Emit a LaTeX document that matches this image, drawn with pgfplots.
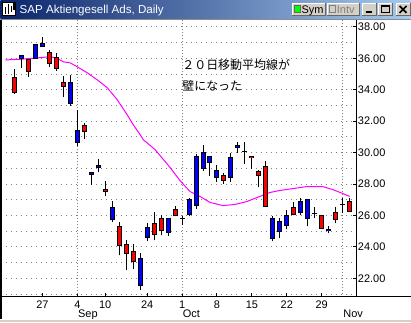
\documentclass[border=0pt]{standalone}
\usepackage{pgfplots}
\pgfplotsset{compat=1.18}
\usepackage{pgfplotstable}
\usepackage{fontspec}
\setmainfont{Liberation Sans}
\newfontfamily\cjk{Noto Sans CJK JP}
\definecolor{winGray}{RGB}{212,208,200}
\definecolor{tbDark}{RGB}{10,36,106}
\definecolor{tbLight}{RGB}{166,202,240}
\definecolor{mag}{RGB}{255,0,255}
\definecolor{cred}{RGB}{255,0,0}
\definecolor{cblue}{RGB}{0,0,255}
\definecolor{cgreen}{RGB}{0,255,0}

% red candles: index, body top, body bottom, high, low
\pgfplotstableread{
i bt bb h l
0 34.83 33.81 35.33 33.75
2 35.97 35.14 35.97 34.83
5 36.41 35.65 36.54 35.46
6 36.10 35.33 36.35 35.21
7 34.51 34.19 34.89 33.56
10 31.78 31.33 31.90 30.89
13 27.71 27.52 28.22 27.21
15 25.30 24.03 25.56 23.46
16 24.16 23.52 24.41 22.51
17 23.71 23.02 24.16 22.57
20 25.49 24.73 26.25 24.41
21 25.81 24.98 26.06 24.73
23 26.38 25.94 26.63 25.94
30 28.60 28.22 28.73 28.03
34 29.81 29.68 29.81 28.98
35 28.86 28.54 28.92 27.78
36 29.17 26.57 29.49 26.57
40 26.51 26.00 26.83 26.00
44 26.00 25.17 26.00 25.17
46 26.25 25.68 26.51 25.49
48 26.89 26.25 27.14 26.25
}\redtab

% blue candles
\pgfplotstableread{
i bt bb h l
1 36.22 35.97 36.22 35.40
3 36.92 35.97 36.92 35.97
4 36.98 36.73 37.37 36.73
8 34.51 33.11 34.95 32.98
9 31.46 30.63 32.73 30.44
11 28.79 28.60 28.79 27.97
12 29.24 29.05 29.62 28.79
14 26.51 25.68 26.89 25.56
18 23.27 21.49 23.59 21.24
19 25.24 24.54 25.49 24.35
22 25.81 24.86 25.81 24.67
25 27.02 26.00 27.08 25.94
26 29.81 26.63 29.94 26.44
27 30.06 28.98 30.51 28.86
28 29.81 29.37 29.81 28.54
29 28.92 28.41 29.24 28.16
31 29.75 28.41 30.00 28.16
32 30.51 30.32 30.70 30.00
37 25.81 24.48 25.94 24.35
38 25.62 24.92 25.87 24.54
39 26.00 25.30 26.32 25.11
41 26.95 26.13 27.08 26.06
42 27.02 25.75 27.02 25.30
45 25.11 24.98 25.30 24.86
}\bluetab

% doji candles: index, open=close, high, low
\pgfplotstableread{
i v h l
24 25.81 25.94 25.37
33 30.06 30.70 29.30
43 26.13 26.51 25.81
47 26.70 27.08 26.13
}\dojitab

\newcommand{\winbtn}[4]{%
  \fill[winGray] (#1,#2) rectangle (#3,#4);
  \draw[white, line width=0.75pt] (#1+0.5,#4-0.5) -- (#1+0.5,#2+0.5) -- (#3-0.5,#2+0.5);
  \draw[black!60, line width=0.75pt] (#1+0.5,#4-0.5) -- (#3-0.5,#4-0.5) -- (#3-0.5,#2+0.5);
}
\pgfplotsset{nomark/.style={only marks, mark=*, mark size=0pt, mark options={draw=none, fill=none}}}

\begin{document}
\begin{tikzpicture}
\begin{scope}[x=0.75pt,y=-0.75pt]
\fill[white] (0,0) rectangle (411,323);
\path[use as bounding box] (0,0) rectangle (411,323);
\end{scope}
\begin{axis}[
  at={(0.75pt,-15pt)}, anchor=north west,
  scale only axis, width=267pt, height=208.125pt,
  xmin=-1.857, xmax=49, ymin=20.825, ymax=38.444,
  axis line style={draw=none},
  xtick={4,9,13,19,24,29,34,39,44},
  xticklabels={27,4,10,24,1,8,15,22,29},
  ytick={22,24,...,38},
  minor ytick={21,23,...,37},
  ymajorgrids, yminorgrids,
  grid style={gray, line width=0.75pt, dash pattern=on 0.75pt off 3pt},
  ytick pos=right, yticklabel pos=right,
  xtick pos=bottom,
  tick align=inside,
  major tick length=3pt,
  minor tick length=0pt,
  tick style={black, line width=0.75pt},
  tick label style={font=\fontsize{8.25}{9}\selectfont, inner sep=0pt},
  /pgf/number format/assume math mode=true,
  yticklabel style={/pgf/number format/fixed, /pgf/number format/fixed zerofill, /pgf/number format/precision=2, anchor=west, xshift=0.75pt},
  xticklabel style={anchor=north, yshift=-2.8pt},
  extra x ticks={9,24,47},
  extra x tick labels={Sep,Oct,Nov},
  extra x tick style={grid=major, major grid style={gray, line width=0.75pt, dash pattern=on 0.75pt off 1.5pt}, major tick length=0pt, xticklabel style={anchor=north west, yshift=-6.7pt, xshift=0.4pt}},
]
% 20-day moving average
\addplot[mag, line width=0.75pt] coordinates {
(-1.29,35.90) (0.86,35.94) (3.29,36.03) (5,36.10) (6,36.03) (7,35.78) (8,35.71)
(9,35.46) (10.43,35.08) (11.86,34.63) (13.29,34.13) (14.71,33.37) (16.14,32.41)
(17,31.78) (18,31.14) (18.43,30.83) (20.14,30.19) (22.29,29.05) (23.71,28.22)
(25.14,27.52) (26.57,27.21) (28,26.83) (29.86,26.63) (31.57,26.70) (33.29,26.89)
(35.14,27.21) (36.57,27.46) (38,27.59) (39.86,27.71) (41.86,27.84) (44.14,27.84)
(45.57,27.65) (47,27.40) (48,27.21)
};
% wicks
\addplot[nomark, error bars/.cd, y dir=plus, y explicit, error mark=none, error bar style={black, line width=0.75pt}]
  table[x=i, y=l, y error plus expr=\thisrow{h}-\thisrow{l}] \redtab;
\addplot[nomark, error bars/.cd, y dir=plus, y explicit, error mark=none, error bar style={black, line width=0.75pt}]
  table[x=i, y=l, y error plus expr=\thisrow{h}-\thisrow{l}] \bluetab;
\addplot[nomark, error bars/.cd, y dir=plus, y explicit, error mark=none, error bar style={black, line width=0.75pt}]
  table[x=i, y=l, y error plus expr=\thisrow{h}-\thisrow{l}] \dojitab;
% body outlines
\addplot[nomark, error bars/.cd, y dir=plus, y explicit, error mark=none, error bar style={black, line width=3.75pt}]
  table[x=i, y=bb, y error plus expr=\thisrow{bt}-\thisrow{bb}] \redtab;
\addplot[nomark, error bars/.cd, y dir=plus, y explicit, error mark=none, error bar style={black, line width=3.75pt}]
  table[x=i, y=bb, y error plus expr=\thisrow{bt}-\thisrow{bb}] \bluetab;
% body fills
\addplot[nomark, error bars/.cd, y dir=plus, y explicit, error mark=none, error bar style={cred, line width=2.25pt}]
  table[x=i, y expr=\thisrow{bb}+0.0635, y error plus expr={max(\thisrow{bt}-\thisrow{bb}-0.127,0)}] \redtab;
\addplot[nomark, error bars/.cd, y dir=plus, y explicit, error mark=none, error bar style={cblue, line width=2.25pt}]
  table[x=i, y expr=\thisrow{bb}+0.0635, y error plus expr={max(\thisrow{bt}-\thisrow{bb}-0.127,0)}] \bluetab;
% doji bars
\addplot[nomark, error bars/.cd, x dir=both, x fixed=0.357, error mark=none, error bar style={black, line width=0.75pt}]
  table[x=i, y=v] \dojitab;
\end{axis}
\begin{scope}[x=0.75pt,y=-0.75pt]
% title bar
\shade[left color=tbDark, right color=tbLight] (0,0) rectangle (411,19);
\fill[white] (2,2) rectangle (16,16);
\draw[black, line width=0.75pt] (2.5,2.5) rectangle (15.5,15.5);
\draw[black, line width=1.2pt] (5,14)--(5,7) (8,14)--(8,4) (11,12)--(11,6) (13.5,10)--(13.5,3.5);
\node[anchor=base west, inner sep=0pt, text=white, font=\fontsize{8.7}{10}\selectfont] at (19,14) {SAP Aktiengesell Ads, Daily};
% buttons
\winbtn{292}{3}{326}{16}
\fill[cgreen] (294.5,5.5) rectangle (300.5,12.5);
\draw[black!60, line width=0.75pt] (294.5,5.5) rectangle (300.5,12.5);
\node[anchor=base west, inner sep=0pt, font=\fontsize{8.25}{9}\selectfont] at (301.5,14) {Sym};
\winbtn{327}{3}{360}{16}
\draw[gray, line width=0.75pt] (329.5,5.5) rectangle (335.5,12.5);
\node[anchor=base west, inner sep=0pt, text=gray, font=\fontsize{8.25}{9}\selectfont] at (337,14) {Intv};
\winbtn{362}{3}{377}{16}
\draw[black, line width=1.5pt] (366,12.5)--(372,12.5);
\winbtn{378}{3}{393}{16}
\draw[black, line width=0.75pt] (381.5,5.5) rectangle (389.5,12.5);
\draw[black, line width=0.75pt] (381.5,6.5)--(389.5,6.5);
\winbtn{396}{3}{411}{16}
\draw[black, line width=1.3pt] (400,6)--(407,13) (407,6)--(400,13);
% frame lines
\fill[black!45] (0,19) rectangle (411,20);
\fill[black] (0,20) rectangle (1.5,319.5);
\draw[black, line width=0.75pt] (357,20)--(357,297.5);
\draw[black, line width=0.75pt] (0,297.5)--(411,297.5);
\fill[winGray] (0,319.5) rectangle (411,323);
\draw[white, line width=0.75pt] (0,319.8)--(411,319.8);
% annotation
\node[anchor=west, inner sep=0pt, font=\cjk\fontsize{9}{10}\selectfont] at (182,65) {２０日移動平均線が};
\node[anchor=west, inner sep=0pt, font=\cjk\fontsize{9}{10}\selectfont] at (182,86) {壁になった};
\end{scope}
\end{tikzpicture}
\end{document}
